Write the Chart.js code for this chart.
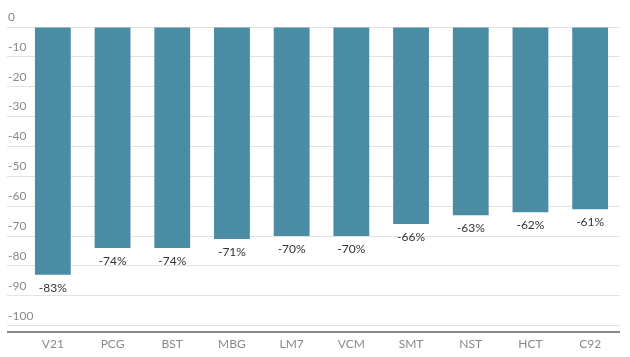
<!DOCTYPE html>
<html><head><meta charset="utf-8">
<script src="https://cdn.jsdelivr.net/npm/chart.js@4"></script>
<style>html,body{margin:0;padding:0;background:#fff}#wrap{width:630px;height:357px}</style>
</head><body><div id="wrap"><canvas id="c"></canvas></div>
<script>
const categories = ['V21','PCG','BST','MBG','LM7','VCM','SMT','NST','HCT','C92'];
const values = [-83,-74,-74,-71,-70,-70,-66,-63,-62,-61];
const yTicks = [0,-10,-20,-30,-40,-50,-60,-70,-80,-90,-100];
const yMin = -102;

const labelPlugin = {
  id:'vlabels',
  afterDatasetsDraw(chart){
    const ctx = chart.ctx;
    const meta = chart.getDatasetMeta(0);
    ctx.save();
    ctx.font = '12px Lato';
    ctx.fillStyle = '#333';
    ctx.textAlign = 'center';
    ctx.textBaseline = 'middle';
    meta.data.forEach((bar,i)=>{
      ctx.fillText(values[i] + '%', bar.x, bar.y + 13);
    });
    ctx.restore();
  }
};

new Chart(document.getElementById('c'), {
  type:'bar',
  data:{labels:categories, datasets:[{data:values, backgroundColor:'#4a8ca3', barPercentage:0.6, categoryPercentage:1}]},
  options:{
    responsive:true, maintainAspectRatio:false, animation:false,
    layout:{padding:{left:7,right:10,top:27,bottom:1}},
    plugins:{legend:{display:false}, tooltip:{enabled:false}},
    scales:{
      x:{
        grid:{display:false, drawTicks:false},
        border:{display:false},
        ticks:{color:'#888', font:{family:'Lato', size:12}, padding:5}
      },
      y:{
        min:yMin, max:0,
        afterBuildTicks(axis){ axis.ticks = yTicks.concat([yMin]).map(v=>({value:v})); },
        afterFit(axis){ axis.width = 16; },
        grid:{
          color:(c)=> (c.tick && c.tick.value === yMin) ? '#888' : '#e2e2e2',
          lineWidth:(c)=> (c.tick && c.tick.value === yMin) ? 2 : 1,
          drawTicks:true, tickLength:16
        },
        border:{display:false},
        ticks:{mirror:true, autoSkip:false, padding:-15, labelOffset:-10, color:'#888', font:{family:'Lato', size:12},
          callback:(v)=> v === yMin ? '' : v}
      }
    }
  },
  plugins:[labelPlugin]
});
</script></body></html>
